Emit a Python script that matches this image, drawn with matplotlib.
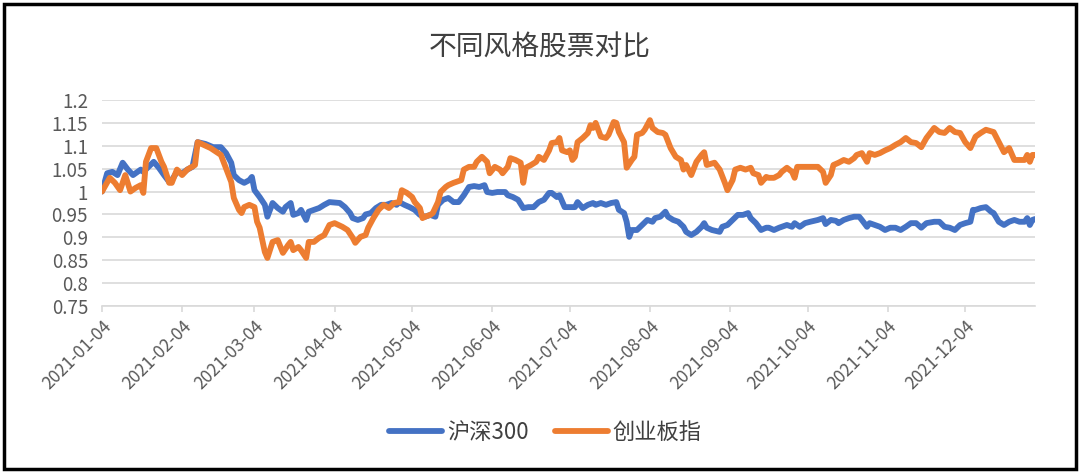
import numpy as np
import pandas as pd
import matplotlib
matplotlib.use("Agg")
import matplotlib.pyplot as plt
import matplotlib.dates as mdates
from matplotlib.patches import Rectangle

plt.rcParams['font.family'] = ['Noto Sans CJK SC', 'DejaVu Sans']

# days counted from 2021-01-04
start = pd.Timestamp('2021-01-04')

hs300_days = [0, 2, 4, 6, 8, 10, 12, 15, 16, 18, 20, 22, 24, 26, 27, 29, 31, 33, 35, 37,
              40, 43, 46, 48, 50, 51, 53, 55, 57, 58, 59, 61, 63, 64, 66, 68, 70, 71, 73, 74,
              76, 77, 79, 80, 82, 84, 86, 88, 92, 94, 96, 97, 99, 101, 102, 104, 106, 108, 110, 112,
              114, 115, 117, 119, 121, 123, 125, 127, 129, 130, 132, 134, 136, 138, 140, 142, 144, 146, 148, 149,
              151, 153, 156, 157, 159, 161, 163, 165, 167, 169, 171, 173, 174, 176, 177, 179, 181, 183, 184, 186,
              188, 190, 191, 193, 195, 197, 199, 200, 202, 203, 204, 205, 207, 209, 211, 213, 214, 216, 218, 219,
              221, 223, 225, 226, 228, 230, 232, 233, 234, 236, 239, 240, 242, 244, 246, 248, 250, 251, 253, 255,
              257, 258, 260, 262, 263, 265, 267, 268, 270, 272, 274, 277, 279, 280, 282, 284, 285, 287, 289, 291,
              293, 294, 296, 297, 299, 301, 303, 305, 307, 309, 311, 313, 315, 317, 319, 322, 324, 326, 328, 330,
              332, 334, 336, 337, 338, 340, 342, 344, 345, 347, 349, 351, 353, 355, 357, 358, 359, 360, 361]
hs300_vals = [1.000, 1.040, 1.043, 1.036, 1.063, 1.048, 1.036, 1.048, 1.043, 1.054, 1.065, 1.052, 1.036, 1.021, 1.025, 1.043, 1.040, 1.048, 1.054, 1.108,
              1.104, 1.097, 1.097, 1.084, 1.063, 1.036, 1.025, 1.019, 1.025, 1.032, 1.003, 0.988, 0.971, 0.945, 0.975, 0.964, 0.956, 0.966, 0.975, 0.949,
              0.953, 0.960, 0.938, 0.956, 0.960, 0.964, 0.971, 0.977, 0.975, 0.966, 0.953, 0.942, 0.938, 0.942, 0.950, 0.953, 0.964, 0.971, 0.971, 0.975,
              0.971, 0.977, 0.971, 0.966, 0.960, 0.949, 0.945, 0.949, 0.945, 0.971, 0.982, 0.986, 0.977, 0.977, 0.992, 1.010, 1.012, 1.010, 1.014, 0.999,
              0.997, 0.999, 0.999, 0.992, 0.988, 0.982, 0.964, 0.966, 0.966, 0.977, 0.982, 0.997, 0.997, 0.988, 0.992, 0.966, 0.966, 0.966, 0.977, 0.964,
              0.971, 0.975, 0.971, 0.975, 0.971, 0.975, 0.977, 0.960, 0.953, 0.934, 0.901, 0.916, 0.916, 0.927, 0.938, 0.934, 0.942, 0.945, 0.956, 0.945,
              0.938, 0.934, 0.923, 0.912, 0.905, 0.912, 0.923, 0.931, 0.921, 0.916, 0.912, 0.923, 0.927, 0.938, 0.949, 0.949, 0.953, 0.942, 0.931, 0.916,
              0.921, 0.921, 0.916, 0.921, 0.923, 0.927, 0.923, 0.931, 0.923, 0.931, 0.934, 0.938, 0.942, 0.929, 0.938, 0.936, 0.931, 0.938, 0.942, 0.945,
              0.945, 0.938, 0.923, 0.931, 0.927, 0.923, 0.916, 0.921, 0.921, 0.916, 0.923, 0.931, 0.931, 0.921, 0.931, 0.934, 0.934, 0.923, 0.921, 0.916,
              0.927, 0.931, 0.934, 0.960, 0.960, 0.964, 0.966, 0.956, 0.953, 0.934, 0.927, 0.934, 0.938, 0.934, 0.934, 0.942, 0.927, 0.938, 0.940]

cyb_days = [0, 3, 5, 7, 9, 11, 13, 15, 16, 17, 19, 21, 23, 24, 26, 27, 29, 31, 33, 36,
            37, 42, 46, 49, 50, 51, 53, 54, 55, 57, 59, 60, 61, 63, 64, 66, 68, 70, 72, 73,
            74, 76, 77, 79, 80, 82, 84, 86, 88, 90, 93, 95, 97, 98, 100, 102, 103, 105, 107, 109,
            111, 113, 115, 116, 118, 120, 121, 123, 124, 125, 127, 128, 130, 131, 133, 134, 136, 137, 139, 140,
            142, 144, 145, 147, 149, 150, 152, 154, 155, 157, 158, 160, 162, 163, 164, 166, 168, 169, 171, 173,
            174, 176, 177, 178, 180, 181, 182, 183, 184, 186, 188, 189, 190, 191, 193, 195, 196, 198, 199, 200,
            202, 203, 205, 206, 207, 209, 210, 212, 213, 215, 217, 218, 220, 222, 224, 225, 226, 228, 230, 232,
            233, 234, 237, 239, 241, 242, 244, 245, 247, 249, 251, 252, 254, 255, 257, 258, 260, 262, 263, 265,
            267, 268, 269, 270, 274, 277, 279, 280, 282, 283, 285, 287, 289, 291, 292, 294, 296, 297, 299, 301,
            303, 305, 307, 309, 311, 313, 315, 317, 319, 322, 324, 326, 328, 330, 332, 334, 336, 338, 340, 342,
            345, 347, 349, 351, 353, 355, 357, 358, 359, 360, 361]
cyb_vals = [1.000, 1.030, 1.019, 1.003, 1.036, 1.000, 1.008, 1.014, 0.997, 1.065, 1.095, 1.095, 1.065, 1.054, 1.019, 1.019, 1.048, 1.036, 1.048, 1.058,
            1.108, 1.095, 1.080, 1.036, 1.021, 0.986, 0.960, 0.953, 0.966, 0.971, 0.966, 0.934, 0.921, 0.868, 0.855, 0.890, 0.894, 0.866, 0.883, 0.890,
            0.872, 0.879, 0.872, 0.855, 0.890, 0.890, 0.899, 0.905, 0.927, 0.931, 0.923, 0.916, 0.899, 0.888, 0.901, 0.905, 0.921, 0.942, 0.960, 0.971,
            0.964, 0.975, 0.977, 1.003, 0.997, 0.988, 0.977, 0.964, 0.942, 0.945, 0.949, 0.953, 0.977, 0.999, 1.010, 1.014, 1.019, 1.021, 1.025, 1.048,
            1.054, 1.054, 1.065, 1.076, 1.065, 1.040, 1.054, 1.048, 1.040, 1.054, 1.073, 1.069, 1.063, 1.019, 1.052, 1.058, 1.065, 1.076, 1.069, 1.090,
            1.106, 1.108, 1.117, 1.090, 1.086, 1.090, 1.069, 1.076, 1.108, 1.117, 1.128, 1.145, 1.139, 1.150, 1.120, 1.117, 1.124, 1.152, 1.150, 1.130,
            1.108, 1.052, 1.069, 1.076, 1.124, 1.128, 1.135, 1.156, 1.139, 1.130, 1.128, 1.124, 1.095, 1.076, 1.069, 1.048, 1.058, 1.036, 1.065, 1.080,
            1.086, 1.058, 1.063, 1.048, 1.019, 1.003, 1.025, 1.048, 1.052, 1.048, 1.052, 1.040, 1.036, 1.019, 1.032, 1.030, 1.030, 1.036, 1.043, 1.052,
            1.043, 1.030, 1.054, 1.054, 1.054, 1.054, 1.043, 1.019, 1.036, 1.058, 1.063, 1.069, 1.065, 1.073, 1.080, 1.084, 1.065, 1.084, 1.080, 1.084,
            1.090, 1.095, 1.102, 1.108, 1.117, 1.108, 1.106, 1.097, 1.117, 1.139, 1.130, 1.128, 1.139, 1.130, 1.128, 1.108, 1.095, 1.120, 1.128, 1.135,
            1.130, 1.108, 1.086, 1.095, 1.069, 1.069, 1.069, 1.080, 1.065, 1.080, 1.080]

series_names = ['沪深300', '创业板指']
colors = ['#4472C4', '#ED7D31']
y_ticks = [0.75, 0.8, 0.85, 0.9, 0.95, 1.0, 1.05, 1.1, 1.15, 1.2]
y_labels = ['0.75', '0.8', '0.85', '0.9', '0.95', '1', '1.05', '1.1', '1.15', '1.2']
month_ticks = pd.date_range('2021-01-01', '2021-12-01', freq='MS') + pd.Timedelta(days=3)

hs300_dates = start + pd.to_timedelta(hs300_days, unit='D')
cyb_dates = start + pd.to_timedelta(cyb_days, unit='D')

fig = plt.figure(figsize=(10.8, 4.73), dpi=100)
ax = fig.add_axes([102 / 1080, 1 - 306 / 473, (1035 - 102) / 1080, (306 - 100) / 473])

for d, v, name, c in zip([hs300_dates, cyb_dates], [hs300_vals, cyb_vals], series_names, colors):
    ax.plot(d, v, color=c, lw=4.2, label=name, solid_joinstyle='round', solid_capstyle='round')

ax.set_ylim(0.75, 1.2)
ax.set_xlim(pd.Timestamp('2021-01-04'), pd.Timestamp('2021-12-31'))
ax.set_yticks(y_ticks)
ax.set_yticklabels(y_labels)
ax.set_xticks(month_ticks)
ax.xaxis.set_major_formatter(mdates.DateFormatter('%Y-%m-%d'))
ax.grid(axis='y', color='#D9D9D9', lw=1.2)
ax.set_axisbelow(True)
for s in ['top', 'right', 'left']:
    ax.spines[s].set_visible(False)
ax.spines['bottom'].set_color('#D9D9D9')
ax.spines['bottom'].set_linewidth(1.2)
ax.tick_params(axis='y', length=0, pad=10, labelsize=13.5, labelcolor='#595959')
ax.tick_params(axis='x', length=4, color='#D9D9D9', width=1.2, labelsize=12.5, labelcolor='#595959', pad=4)
for lab in ax.get_xticklabels():
    lab.set_rotation(45)
    lab.set_ha('right')
    lab.set_rotation_mode('anchor')

fig.text(0.5, 1 - 47 / 473, '不同风格股票对比', ha='center', va='center', fontsize=20, color='#404040')
fig.legend(loc='center', bbox_to_anchor=(0.505, 1 - 432 / 473), ncol=2, frameon=False,
           fontsize=16, handlelength=2.4, columnspacing=1.2, handletextpad=0.2, labelcolor='#404040')
fig.patches.append(Rectangle((4 / 1080, 4 / 473), 1072 / 1080, 465 / 473, transform=fig.transFigure,
                             fill=False, edgecolor='black', lw=2.5))

fig.savefig('out.png', dpi=100)
